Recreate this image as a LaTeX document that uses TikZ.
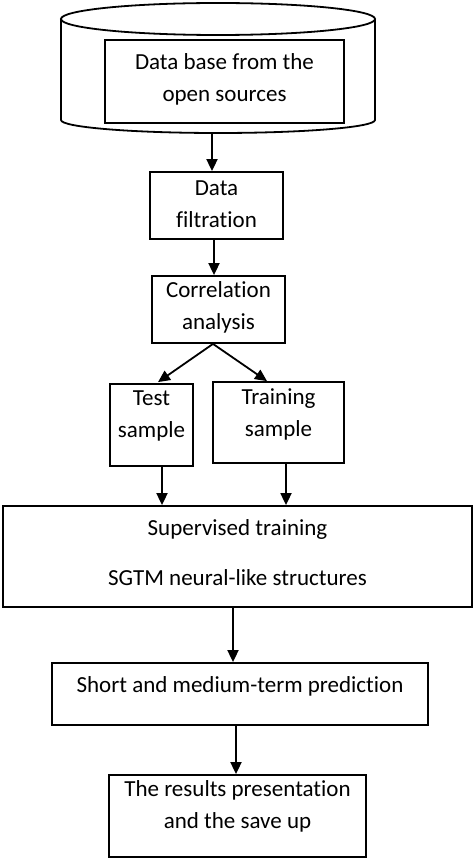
\documentclass[tikz,border=0pt]{standalone}
\usepackage{fontspec}
\setmainfont{Carlito}[Ligatures={NoCommon}]
\usetikzlibrary{arrows.meta,calc}
\begin{document}
\begin{tikzpicture}[x=1pt,y=-1pt,
  box/.style={draw=black,line width=1.8pt,inner sep=0pt,minimum width=#1},
  txt/.style={align=center,inner sep=0pt,font=\fontsize{23}{32}\selectfont},
  arr/.style={line width=1.8pt,-{Triangle[length=12pt,width=11pt]}}]
\useasboundingbox (0,0) rectangle (474,861);
% cylinder
\draw[line width=1.8pt] (61,19) -- (61,120) arc[start angle=180,end angle=0,x radius=157,y radius=13] -- (375,19);
\draw[line width=1.8pt] (218,19) ellipse[x radius=157,y radius=16];
\coordinate (cylbot) at (212,133);
% boxes
\node[box=239pt,minimum height=83pt] (db) at (224.5,81.5) {};
\node[box=133pt,minimum height=67pt] (filt) at (216.5,205.5) {};
\node[box=133pt,minimum height=67pt] (corr) at (218.5,309.5) {};
\node[box=83pt,minimum height=82pt] (test) at (151.5,425) {};
\node[box=131pt,minimum height=81pt] (train) at (278.5,422.5) {};
\node[box=469pt,minimum height=101pt] (sup) at (237.5,556.5) {};
\node[box=376pt,minimum height=62pt] (short) at (240,694) {};
\node[box=257pt,minimum height=82pt] (res) at (237.5,816) {};
% texts
\node[txt] (dbt) at (224.5,79) {Data base from the\\open sources};
\node[txt] (filtt) at (216.5,204) {Data\\filtration};
\node[txt] (corrt) at (218.5,307.5) {Correlation\\analysis};
\node[txt] (testt) at (151.5,416) {Test\\sample};
\node[txt] (traint) at (278.5,414) {Training\\sample};
\node[txt,font=\fontsize{23}{50}\selectfont] (supt) at (237.5,553) {Supervised training\\SGTM neural-like structures};
\node[txt] (shortt) at (240,686.5) {Short and medium-term prediction};
\node[txt] (rest) at (237.5,806.5) {The results presentation\\and the save up};
% arrows
\draw[arr] (cylbot) -- (cylbot |- filt.north);
\draw[arr] ($(filt.south)+(-2.5,0)$) -- ($(corr.north)+(-4.5,0)$);
\draw[arr] ($(corr.south)+(-5.5,0)$) -- ($(test.north)+(6.5,-1)$);
\draw[arr] ($(corr.south)+(-5.5,0)$) -- ($(train.north)+(-11.5,0)$);
\draw[arr] ($(test.south)+(10.5,0)$) -- ($(sup.north)+(-75.5,0)$);
\draw[arr] ($(train.south)+(7.5,0)$) -- ($(sup.north)+(48.5,0)$);
\draw[arr] ($(sup.south)+(-4.5,0)$) -- ($(short.north)+(-7,0)$);
\draw[arr] ($(short.south)+(-4,0)$) -- ($(res.north)+(-1.5,0)$);
\end{tikzpicture}
\end{document}
